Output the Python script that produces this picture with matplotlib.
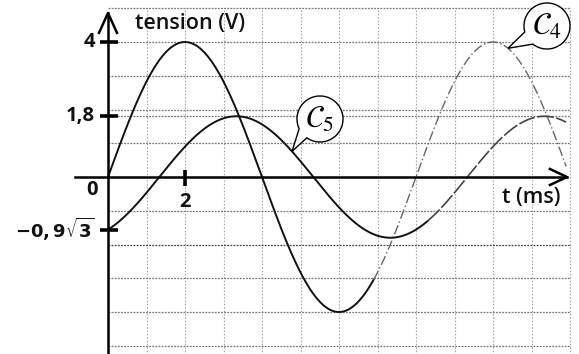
import numpy as np
import matplotlib.pyplot as plt
from matplotlib.path import Path
from matplotlib.patches import PathPatch

# u(t) = Um * sin(2*pi*t/T + phi)
curve_names = [r"$\mathcal{C}_4$", r"$\mathcal{C}_5$"]
amplitudes = [4.0, 1.8]  # V
period = 8.0  # ms
phases = [0.0, -np.pi / 3]  # C5(0) = -0.9*sqrt(3)
t_end = 11.9
t_dark_end = [6.9, 8.3]  # where the trace turns pale

y_ticks = [4, 1.8, -0.9 * np.sqrt(3)]
y_tick_labels = ["4", "1,8", r"$\mathbf{-0,9}\sqrt{\mathbf{3}}$"]
y_tick_sizes = [14.5, 14.5, 13]
x_ticks = [2]
x_tick_labels = ["2"]
grid_t = list(range(1, 13))
grid_u = [5, 4, 3, 2, 1, -1, -2, -3, -4, -5]

PX_T = 38.5  # pixels per ms
PX_U = 33.75  # pixels per V
LABEL_FONT = "Open Sans"


def signal(t, k):
    return amplitudes[k] * np.sin(2 * np.pi * t / period + phases[k])


def bubble(ax, center, r_px, tip, gap, text):
    cx, cy = center
    rx, ry = r_px / PX_T, r_px / PX_U
    a = np.radians(np.linspace(gap[1], gap[0] + 360, 120))
    verts = list(zip(cx + rx * np.cos(a), cy + ry * np.sin(a)))
    verts += [tip, verts[0]]
    codes = [Path.MOVETO] + [Path.LINETO] * (len(verts) - 2) + [Path.CLOSEPOLY]
    ax.add_patch(PathPatch(Path(verts, codes), facecolor="white",
                           edgecolor="black", lw=1.0, zorder=6))
    ax.text(cx, cy, text, ha="center", va="center", fontsize=22,
            math_fontfamily="stix", zorder=7)


fig = plt.figure(figsize=(5.79, 3.54), dpi=100)
ax = fig.add_axes([0, 0, 1, 1])
ax.set_xlim(-108 / PX_T, (579 - 108) / PX_T)
ax.set_ylim(-177 / PX_U, 177 / PX_U)
ax.axis("off")

# grid
for t in grid_t:
    ax.plot([t, t], [-5.3, 5], color="#aaaaaa", lw=0.8, ls=(0, (1.5, 1.5)), zorder=1)
for u in grid_u:
    col = "#444444" if u == -2 else "#777777"
    ax.plot([0, 12], [u, u], color=col, lw=0.9, ls=(0, (1.5, 1)), zorder=1)
ax.plot([0, 12], [1.8, 1.8], color="#777777", lw=0.9, ls=(0, (1.5, 1)), zorder=1)

# axes with open arrow heads
ax.plot([-33 / PX_T, 11.92], [0, 0], color="black", lw=1.8, zorder=4)
ax.plot([11.92 - 17 / PX_T, 11.92, 11.92 - 17 / PX_T], [8 / PX_U, 0, -8 / PX_U],
        color="black", lw=1.8, zorder=4)
ax.plot([0, 0], [-5.3, 4.86], color="black", lw=1.8, zorder=4)
ax.plot([-9 / PX_T, 0, 9 / PX_T], [4.27, 4.86, 4.27], color="black", lw=1.8, zorder=4)

for u in y_ticks:
    ax.plot([-8 / PX_T, 10 / PX_T], [u, u], color="black", lw=2.6,
            solid_capstyle="butt", zorder=4)
for t in x_ticks:
    ax.plot([t, t], [7 / PX_U, -9 / PX_U], color="black", lw=2.6,
            solid_capstyle="butt", zorder=4)

# curves
for k in range(2):
    t1 = np.linspace(0, t_dark_end[k], 300)
    t2 = np.linspace(t_dark_end[k], t_end, 200)
    ax.plot(t1, signal(t1, k), color="#111111", lw=1.4, zorder=3)
    if k == 0:
        ax.plot(t2, signal(t2, k), color="#666666", lw=1.0,
                ls=(0, (7, 2, 1, 2)), zorder=3)
    else:
        ax.plot(t2, signal(t2, k), color="#444444", lw=1.2,
                ls=(0, (10, 1.5)), zorder=3)

# labels
lab = dict(fontweight="bold", family=LABEL_FONT, color="#111111")
for u, s, fs in zip(y_ticks, y_tick_labels, y_tick_sizes):
    ax.text(-13 / PX_T, u, s, ha="right", va="center", fontsize=fs, **lab)
for t, s in zip(x_ticks, x_tick_labels):
    ax.text(t, -25 / PX_U, s, ha="center", va="center", fontsize=14.5, **lab)
ax.text(-16 / PX_T, -13 / PX_U, "0", ha="center", va="center", fontsize=14.5, **lab)

ax.text(27 / PX_T, 154 / PX_U, "tension (V)", ha="left", va="center",
        fontsize=15.5, family=LABEL_FONT, fontweight="semibold", color="#111111")
ax.text(452 / PX_T, -20 / PX_U, "t (ms)", ha="right", va="center",
        fontsize=15.5, family=LABEL_FONT, fontweight="semibold", color="#111111")

# callouts
bubble(ax, (212 / PX_T, 58 / PX_U), 23, (4.78, signal(4.78, 1)), (205, 235), curve_names[1])
bubble(ax, (439 / PX_T, 151 / PX_U), 23, (10.39, signal(10.39, 0)), (195, 232), curve_names[0])

fig.savefig("out.png", dpi=100)
